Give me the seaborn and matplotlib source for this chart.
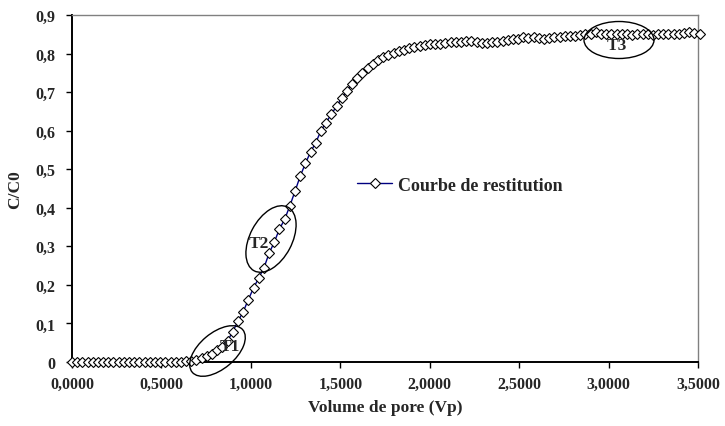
import numpy as np
import matplotlib
matplotlib.use("Agg")
import matplotlib.pyplot as plt
import seaborn as sns
import pandas as pd
from matplotlib.patches import Ellipse

# ---- data ----
x_start = 0.0
x_step = 0.029
c_c0 = [
    0.000, 0.000, 0.000, 0.000, 0.000, 0.000, 0.000, 0.000, 0.000, 0.000,
    0.000, 0.000, 0.000, 0.000, 0.000, 0.000, 0.000, 0.000, 0.000, 0.000,
    0.000, 0.001, 0.002, 0.003, 0.006, 0.010, 0.015, 0.022, 0.030, 0.040,
    0.055, 0.079, 0.106, 0.130, 0.162, 0.192, 0.218, 0.244, 0.282, 0.311,
    0.345, 0.370, 0.405, 0.443, 0.482, 0.515, 0.545, 0.569, 0.600, 0.621,
    0.643, 0.663, 0.684, 0.703, 0.720, 0.737, 0.750, 0.762, 0.772, 0.782,
    0.791, 0.797, 0.802, 0.807, 0.810, 0.814, 0.817, 0.819, 0.822, 0.825,
    0.825, 0.826, 0.827, 0.829, 0.829, 0.831, 0.833, 0.832, 0.829, 0.828,
    0.828, 0.829, 0.831, 0.833, 0.835, 0.837, 0.838, 0.844, 0.840, 0.844,
    0.840, 0.838, 0.841, 0.843, 0.842, 0.845, 0.846, 0.845, 0.848, 0.850,
    0.852, 0.857, 0.852, 0.851, 0.850, 0.850, 0.851, 0.850, 0.849, 0.850,
    0.851, 0.850, 0.849, 0.850, 0.851, 0.850, 0.851, 0.852, 0.854, 0.856,
    0.854, 0.850,
]
volume_pore = [round(x_start + i * x_step, 4) for i in range(len(c_c0))]

x_ticks = [0.0, 0.5, 1.0, 1.5, 2.0, 2.5, 3.0, 3.5]
x_tick_labels = ["0,0000", "0,5000", "1,0000", "1,5000", "2,0000", "2,5000", "3,0000", "3,5000"]
y_ticks = [0.0, 0.1, 0.2, 0.3, 0.4, 0.5, 0.6, 0.7, 0.8, 0.9]
y_tick_labels = ["0", "0,1", "0,2", "0,3", "0,4", "0,5", "0,6", "0,7", "0,8", "0,9"]
series_name = "Courbe de restitution"
annotations = ["T1", "T2", "T3"]

df = pd.DataFrame({"Vp": volume_pore, "C/C0": c_c0})

# ---- style ----
sns.set_style("white")
plt.rcParams["font.family"] = ["Liberation Serif", "DejaVu Serif"]
plt.rcParams["font.weight"] = "bold"

fig = plt.figure(figsize=(7.25, 4.27), dpi=100)
ax = fig.add_axes([72 / 725, 1 - 363 / 427, (698 - 72) / 725, (363 - 16) / 427])

sns.lineplot(data=df, x="Vp", y="C/C0", ax=ax, color="#000080", linewidth=1.0,
             marker="D", markersize=4.8, markerfacecolor="white",
             markeredgecolor="black", markeredgewidth=0.8,
             label=series_name, clip_on=False, zorder=3)

ax.set_xlim(0, 3.5)
ax.set_ylim(0, 0.9)
ax.set_xticks(x_ticks)
ax.set_xticklabels(x_tick_labels, fontsize=11.5, fontweight="bold")
ax.set_yticks(y_ticks)
ax.set_yticklabels(y_tick_labels, fontsize=11.5, fontweight="bold")
ax.tick_params(axis="both", direction="out", length=4, width=1, color="black",
               left=True, bottom=True)
ax.tick_params(axis="y", pad=8)
ax.tick_params(axis="x", pad=6)

for s in ["left", "bottom"]:
    ax.spines[s].set_color("black")
    ax.spines[s].set_linewidth(1.4)
for s in ["top", "right"]:
    ax.spines[s].set_color("#808080")
    ax.spines[s].set_linewidth(1.0)

ax.set_xlabel("Volume de pore (Vp)", fontsize=12.5, fontweight="bold")
ax.set_ylabel("C/C0", fontsize=12.5, fontweight="bold")
ax.xaxis.set_label_coords(0.5, (363 - 400) / 347)
ax.yaxis.set_label_coords((23 - 72) / 626, 0.5)

leg = ax.legend(loc="center left", bbox_to_anchor=(0.43, 0.51), frameon=False,
                prop={"family": "Liberation Serif", "weight": "bold", "size": 13},
                handlelength=1.9, handletextpad=0.35)

# ---- ellipses (in figure pixel space via inches) ----
H = 427
ell_specs = [  # center px x, px y, width px, height px, angle
    (217.5, 352, 66, 36, 40),
    (271, 240, 72, 42, 62),
    (619, 41, 70, 37, 0),
]
text_pos = [(230, 347), (259, 244), (617, 46)]
for (cx, cy, w, h, a), (tx, ty), lab in zip(ell_specs, text_pos, annotations):
    e = Ellipse((cx / 100, (H - cy) / 100), w / 100, h / 100, angle=a,
                transform=fig.dpi_scale_trans, fill=False, edgecolor="black",
                linewidth=1.0, zorder=5)
    fig.add_artist(e)
    fig.text(tx / 725, 1 - ty / 427, lab, ha="center", va="center",
             fontsize=12.5, fontweight="bold", zorder=6)

fig.savefig("out.png", dpi=100)
